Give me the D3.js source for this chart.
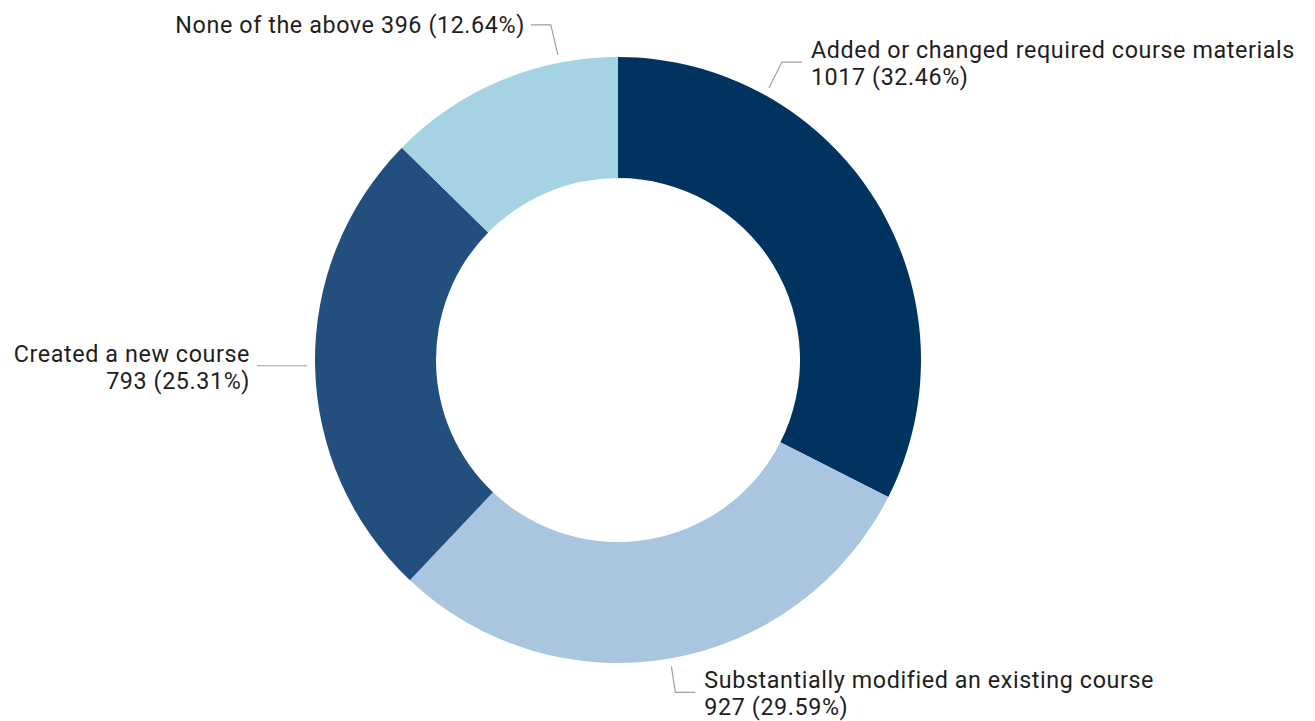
<!DOCTYPE html>
<html>
<head>
<meta charset="utf-8">
<script src="https://cdn.jsdelivr.net/npm/d3@7"></script>
<style>
  html, body { margin: 0; padding: 0; background: #ffffff; }
  svg { display: block; }
  .lbl { font-family: Roboto, "DejaVu Sans", sans-serif; font-size: 23.3px; letter-spacing: 0.6px; fill: #1f1e1d; }
  .leader { fill: none; stroke: #a0a0a0; stroke-width: 1.2; }
</style>
</head>
<body>
<svg id="chart" width="1315" height="721"></svg>
<script>
// Course change categories and respondent counts
const categories = [
  "Added or changed required course materials",
  "Substantially modified an existing course",
  "Created a new course",
  "None of the above"
];
const counts = [1017, 927, 793, 396];
const percents = [32.46, 29.59, 25.31, 12.64];
const colors = ["#00335f", "#a9c5df", "#224f7e", "#a6d3e3"];

const width = 1315, height = 721;
const cx = 618, cy = 360;
const outerR = 303, innerR = 182;

const svg = d3.select("#chart");
const g = svg.append("g").attr("transform", `translate(${cx},${cy})`);

const data = categories.map((c, i) => ({ name: c, value: counts[i], pct: percents[i], color: colors[i] }));

const pie = d3.pie().sort(null).value(d => d.value);
const arcs = pie(data);
const arc = d3.arc().innerRadius(innerR).outerRadius(outerR);

g.selectAll("path.slice")
  .data(arcs)
  .join("path")
  .attr("class", "slice")
  .attr("d", arc)
  .attr("fill", d => d.data.color);

// Leader placement per slice: angle offset from slice middle (degrees),
// elbow offset, which side the text sits on, and whether the label wraps.
const layout = [
  { shift: -29.4, ex: 13, ey: -26, side: "right", wrap: true, gap: 9 },
  { shift: 0, ex: 4, ey: 26, side: "right", wrap: true, gap: 9 },
  { shift: 0, ex: 0, ey: 0, side: "left", wrap: true, gap: 7 },
  { shift: 11.6, ex: -7, ey: -30, side: "left", wrap: false, gap: 6 }
];

const leaderR = outerR + 8;
const tail = 20, lineH = 27;

arcs.forEach((a, i) => {
  const L = layout[i];
  const mid = (a.startAngle + a.endAngle) / 2 + L.shift * Math.PI / 180;
  const sx = Math.sin(mid) * leaderR;
  const sy = -Math.cos(mid) * leaderR;
  const exy = [sx + L.ex, sy + L.ey];
  const dir = L.side === "right" ? 1 : -1;
  let pts;
  if (L.ex === 0 && L.ey === 0) {
    pts = [[sx, sy], [sx - 50, sy]];
  } else {
    pts = [[sx, sy], exy, [exy[0] + dir * tail, exy[1]]];
  }
  g.append("path")
    .attr("class", "leader")
    .attr("d", d3.line()(pts));

  const end = pts[pts.length - 1];
  const tx = end[0] + dir * L.gap;
  const anchor = dir > 0 ? "start" : "end";
  const valueText = `${a.data.value} (${a.data.pct.toFixed(2)}%)`;
  const t = g.append("text")
    .attr("class", "lbl")
    .attr("text-anchor", anchor)
    .attr("x", tx);
  if (L.wrap) {
    t.append("tspan").attr("x", tx).attr("y", end[1] - 4).text(a.data.name);
    t.append("tspan").attr("x", tx).attr("y", end[1] - 4 + lineH).text(valueText);
  } else {
    t.attr("y", end[1] + 8).text(`${a.data.name} ${valueText}`);
  }
});
</script>
</body>
</html>
